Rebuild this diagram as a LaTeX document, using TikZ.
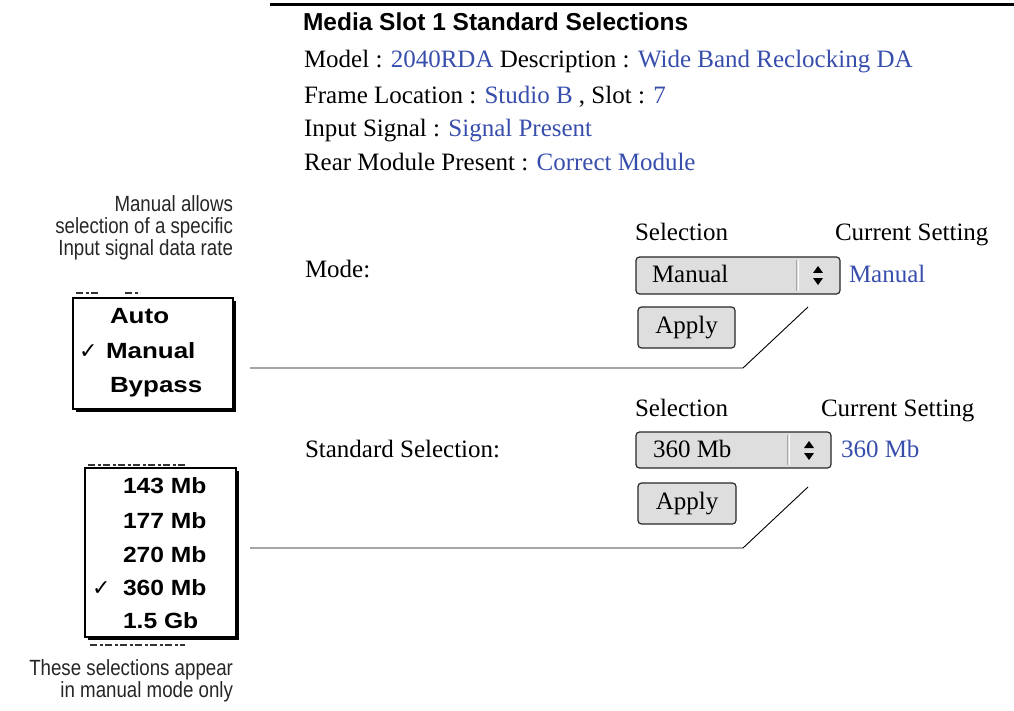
\documentclass[tikz,border=0pt]{standalone}
\usepackage{fontspec}
\setmainfont{Liberation Serif}
\newfontfamily\headfont{Liberation Sans}
\newfontfamily\notefont[FakeStretch=0.85]{Liberation Sans}
\newfontfamily\menufont[FakeStretch=1.18]{Liberation Sans}
\newfontfamily\ratefont[FakeStretch=1.12]{Liberation Sans}
\newfontfamily\symfont{DejaVu Sans}
\definecolor{valblue}{RGB}{56,78,172}
\definecolor{btngray}{RGB}{222,222,222}
\definecolor{btnedge}{RGB}{40,40,40}
\tikzset{
  every node/.style={inner sep=0pt, outer sep=0pt},
  body/.style={anchor=base west, font=\fontsize{25}{28}\selectfont},
  val/.style={body, text=valblue},
  note/.style={anchor=base east, font=\notefont\fontsize{22}{24}\selectfont, text=black!85},
  menuitem/.style={anchor=base west, font=\menufont\bfseries\fontsize{22}{24}\selectfont},
  rateitem/.style={anchor=base west, font=\ratefont\bfseries\fontsize{22}{24}\selectfont},
  tick/.style={anchor=base west, font=\symfont\bfseries\fontsize{22}{24}\selectfont},
  menubox/.style={draw, line width=1.3pt, fill=white, rectangle},
  shadow/.style={fill=black},
  ctrl/.style={draw=btnedge, line width=1.2pt, fill=btngray, rounded corners=3.5pt},
  leader/.style={line width=0.9pt},
  remnant/.style={line width=1.8pt, dash pattern=on 7pt off 3pt on 3pt off 2pt, black!80},
}
\begin{document}
\begin{tikzpicture}[x=1pt, y=-1pt]
\useasboundingbox (0,0) rectangle (1014,711);

% top rule and heading block
\draw[line width=3pt] (270,5) -- (1014,5);
\node[anchor=base west, font=\headfont\bfseries\fontsize{24.5}{27}\selectfont] (title) at (303,31) {Media Slot 1 Standard Selections};
\node[body] (model) at (304,68) {Model : \textcolor{valblue}{2040RDA} Description : \textcolor{valblue}{Wide Band Reclocking DA}};
\node[body] (frame) at (304,104) {Frame Location : \textcolor{valblue}{Studio B} , Slot : \textcolor{valblue}{7}};
\node[body] (input) at (304,137) {Input Signal : \textcolor{valblue}{Signal Present}};
\node[body] (rear) at (304,171) {Rear Module Present : \textcolor{valblue}{Correct Module}};

% side notes
\node[note] (n1) at (233,212) {Manual allows};
\node[note] (n2) at (233,234) {selection of a specific};
\node[note] (n3) at (233,256) {Input signal data rate};
\node[note] (n4) at (233,675) {These selections appear};
\node[note] (n5) at (233,697) {in manual mode only};

% ---- mode pop-up menu
\draw[remnant] (76,293) -- (100,293);
\draw[remnant] (125,293) -- (140,293);
\draw[remnant] (78,410) -- (175,410);
\fill[shadow] (76,301) rectangle (236,412);
\node[menubox, minimum width=160pt, minimum height=111pt, anchor=north west] (modemenu) at (73,298) {};
\node[menuitem] (mauto) at (110,323) {Auto};
\node[tick] (mtick) at (79,358) {✓};
\node[menuitem] (mman) at (106,358) {Manual};
\node[menuitem] (mbyp) at (110,392) {Bypass};

% ---- rate pop-up menu
\draw[remnant] (88,465) -- (185,465);
\draw[remnant] (90,645) -- (185,645);
\fill[shadow] (88,471) rectangle (239,640);
\node[menubox, minimum width=151pt, minimum height=169pt, anchor=north west] (ratemenu) at (85,468) {};
\node[rateitem] (r1) at (123,493) {143 Mb};
\node[rateitem] (r2) at (123,528) {177 Mb};
\node[rateitem] (r3) at (123,562) {270 Mb};
\node[tick] (rtick) at (92,595) {✓};
\node[rateitem] (r4) at (123,595) {360 Mb};
\node[rateitem] (r5) at (123,628) {1.5 Gb};

% ---- mode row
\node[body] (modelbl) at (305,277) {Mode:};
\node[body] (selh1) at (635,241) {Selection};
\node[body] (curh1) at (835,241) {Current Setting};
\draw[ctrl] (636,257) rectangle (840,294);
\draw[white, line width=1pt] (798,260) -- (798,291);
\draw[black!35, line width=1pt] (796,260) -- (796,291);
\fill (818,266) -- (813,273) -- (823,273) -- cycle;
\fill (818,285) -- (813,278) -- (823,278) -- cycle;
\node[body] (modesel) at (652,282) {Manual};
\node[val] (modecur) at (849,282) {Manual};
\draw[ctrl] (638,307) rectangle (735,348);
\node[font=\fontsize{25}{28}\selectfont] (apply1) at (686.5,327.5) {Apply};

% ---- standard row
\node[body] (stdlbl) at (305,457) {Standard Selection:};
\node[body] (selh2) at (635,416) {Selection};
\node[body] (curh2) at (821,416) {Current Setting};
\draw[ctrl] (636,432) rectangle (831,468);
\draw[white, line width=1pt] (789,435) -- (789,465);
\draw[black!35, line width=1pt] (787,435) -- (787,465);
\fill (809,441) -- (804,448) -- (814,448) -- cycle;
\fill (809,460) -- (804,453) -- (814,453) -- cycle;
\node[body] (stdsel) at (653,457) {360 Mb};
\node[val] (stdcur) at (841,457) {360 Mb};
\draw[ctrl] (638,483) rectangle (736,524);
\node[font=\fontsize{25}{28}\selectfont] (apply2) at (687,503.5) {Apply};

% ---- leaders from the menus to the controls
\coordinate (l1a) at (250,368);
\coordinate (l1b) at (743,368);
\coordinate (l1c) at (808,307);
\draw[leader] (l1a) -- (l1b) -- (l1c);
\coordinate (l2a) at (250,548);
\coordinate (l2b) at (743,548);
\coordinate (l2c) at (808,487);
\draw[leader] (l2a) -- (l2b) -- (l2c);
\end{tikzpicture}
\end{document}
